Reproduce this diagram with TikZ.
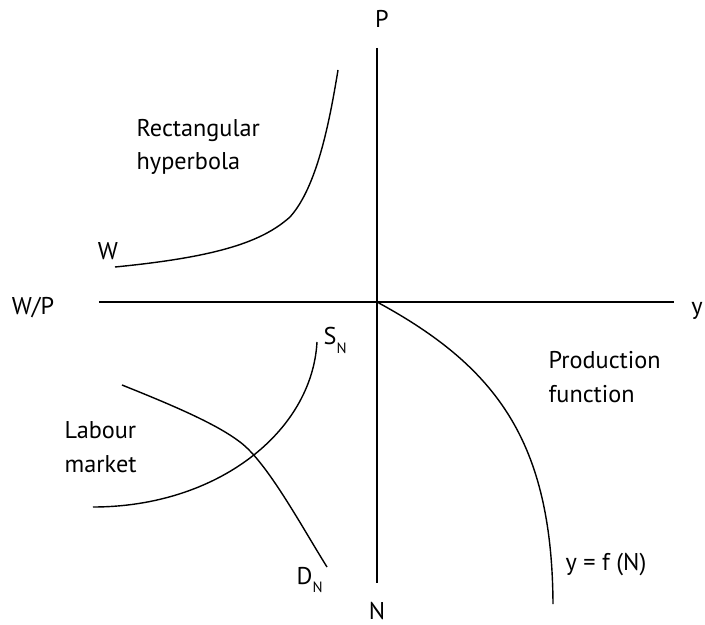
\documentclass[tikz,border=0pt]{standalone}
\usepackage{fontspec}
\setmainfont{PT Sans}
\newcommand\lowsub[1]{\raisebox{-0.36em}{\fontsize{8.5}{8.5}\selectfont #1}}
\tikzset{
  lbl/.style={inner sep=0pt, font=\fontsize{13.8}{18.8}\selectfont},
  curve/.style={line width=0.8pt},
}
\begin{document}
\begin{tikzpicture}[line width=0.8pt]
  \useasboundingbox (-7.54,-6.44) rectangle (6.56,6.04);
  % axes
  \coordinate (top) at (0,5.08);
  \coordinate (bot) at (0,-5.62);
  \coordinate (left) at (-5.56,0);
  \coordinate (right) at (5.94,0);
  \coordinate (O) at (0,0);
  \draw (top) -- (bot);
  \draw (left) -- (right);
  \node[lbl, anchor=base] (P) at (0.10,5.48) {P};
  \node[lbl, anchor=base] (N) at (0,-6.34) {N};
  \node[lbl, anchor=base] (WP) at (-6.88,-0.26) {W/P};
  \node[lbl, anchor=base] (y) at (6.40,-0.26) {y};

  % rectangular hyperbola
  \draw[curve] (-5.24,0.70) .. controls (-3.2,0.9) and (-2.3,1.2) .. (-1.74,1.70)
    .. controls (-1.2,2.3) and (-0.95,3.6) .. (-0.78,4.64);
  \node[lbl, anchor=base] (W) at (-5.38,0.84) {W};
  \node[lbl, anchor=base west, align=left] (hyp) at (-4.82,2.64) {Rectangular\\hyperbola};

  % production function
  \draw[curve] (O) .. controls (2.4,-1.3) and (3.5,-2.8) .. (3.52,-6.04);
  \node[lbl, anchor=base west, align=left] (prod) at (3.42,-2.00) {Production\\function};
  \node[lbl, anchor=base west] (yfN) at (3.76,-5.36) {y = f (N)};

  % labour market
  \draw[curve] (-1.20,-0.80) .. controls (-1.3,-2.6) and (-3.2,-4.1) .. (-5.68,-4.10);
  \draw[curve] (-5.10,-1.66) .. controls (-4.0,-2.1) and (-3.2,-2.45) .. (-2.74,-2.80)
    .. controls (-2.2,-3.2) and (-1.5,-4.5) .. (-1.00,-5.30);
  \node[lbl, anchor=base west] (SN) at (-1.08,-0.86) {S\lowsub{N}};
  \node[lbl, anchor=base west] (DN) at (-1.62,-5.64) {D\lowsub{N}};
  \node[lbl, anchor=base west, align=left] (lab) at (-6.26,-3.40) {Labour\\market};
\end{tikzpicture}
\end{document}
